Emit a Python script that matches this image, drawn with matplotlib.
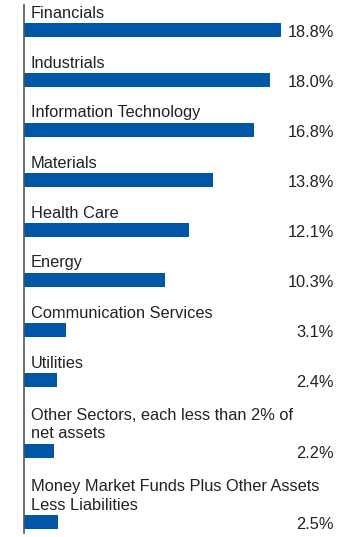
import matplotlib
matplotlib.use("Agg")
import matplotlib.pyplot as plt

sectors = ["Financials", "Industrials", "Information Technology", "Materials",
           "Health Care", "Energy", "Communication Services", "Utilities",
           "Other Sectors, each less than 2% of\nnet assets",
           "Money Market Funds Plus Other Assets\nLess Liabilities"]
weights = [18.8, 18.0, 16.8, 13.8, 12.1, 10.3, 3.1, 2.4, 2.2, 2.5]
labels = ["18.8%", "18.0%", "16.8%", "13.8%", "12.1%", "10.3%", "3.1%", "2.4%", "2.2%", "2.5%"]

plt.rcParams['font.family'] = ['Liberation Sans', 'DejaVu Sans']

W, H = 360, 537
x0 = 24          # pixel of the zero line
scale = 13.67    # pixels per percent
fig = plt.figure(figsize=(W / 100, H / 100), dpi=100)
ax = fig.add_axes([0, 0, 1, 1])
ax.set_xlim(-x0 / scale, (W - x0) / scale)
ax.set_ylim(H, 0)
ax.axis('off')

# row centres in pixels, two-line labels take extra room
centers = []
c = 30
for i, s in enumerate(sectors):
    if i > 0:
        c += 50 + 21 * (s.count("\n"))
    centers.append(c)

bh = 14
ax.barh(centers, weights, height=bh, left=0, color='#0057a6', align='center')

for s, v, lab, yc in zip(sectors, weights, labels, centers):
    ax.text(7 / scale, yc - bh / 2 - 2.5, s, ha='left', va='bottom',
            fontsize=11.8, color='#222222', linespacing=1.3)
    ax.text((334 - x0) / scale, yc + bh / 2, lab, ha='right', va='baseline',
            fontsize=11.8, color='#222222')

ax.plot([0, 0], [5, 533], color='#555555', lw=1.2)

fig.savefig("out.png", dpi=100)
